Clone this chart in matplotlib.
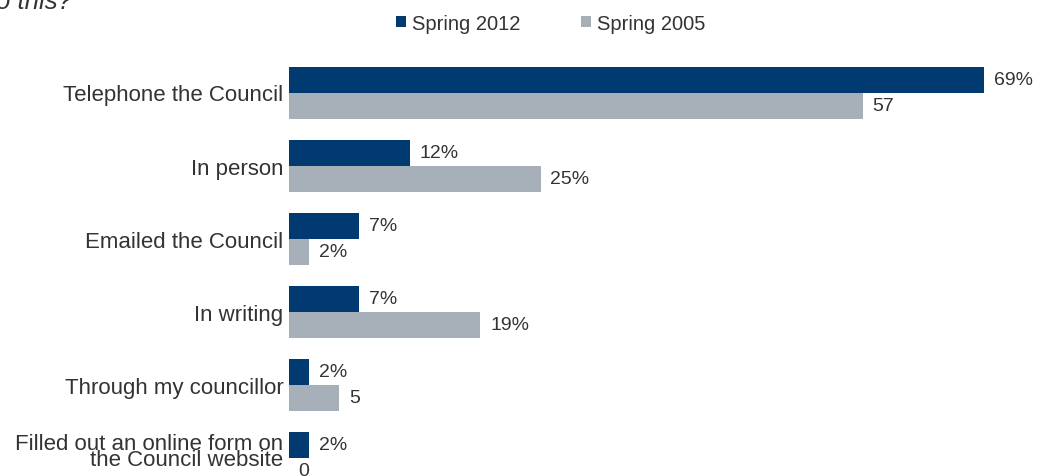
import matplotlib
matplotlib.use("Agg")

import numpy as np
import matplotlib.pyplot as plt
from matplotlib.patches import Patch
from matplotlib.transforms import ScaledTranslation

plt.rcParams["font.family"] = ["Liberation Sans", "DejaVu Sans"]

# ---------------------------------------------------------------------------
# Data
# ---------------------------------------------------------------------------
categories = [
    "Telephone the Council",
    "In person",
    "Emailed the Council",
    "In writing",
    "Through my councillor",
    "Filled out an online form on\nthe Council website",
]
spring_2012 = [69, 12, 7, 7, 2, 2]
spring_2005 = [57, 25, 2, 19, 5, 0]
labels_2012 = ["69%", "12%", "7%", "7%", "2%", "2%"]
labels_2005 = ["57", "25%", "2%", "19%", "5", "0"]
series_names = ["Spring 2012", "Spring 2005"]

NAVY = "#003A70"
GREY = "#A7AFB8"
TEXT = "#333333"

# ---------------------------------------------------------------------------
# Figure
# ---------------------------------------------------------------------------
W, H = 1037, 477
fig = plt.figure(figsize=(W / 100, H / 100), dpi=100)
ax = fig.add_axes([289 / W, 0, 745 / W, 417 / H])

pitch = 73.1
bar_h = 26 / pitch
y = np.arange(len(categories))

ax.barh(y - bar_h / 2, spring_2012, height=bar_h, color=NAVY, linewidth=0)
ax.barh(y + bar_h / 2, spring_2005, height=bar_h, color=GREY, linewidth=0)

for yi, v, lab in zip(y, spring_2012, labels_2012):
    ax.annotate(lab, xy=(v, yi - bar_h / 2), xytext=(7, 0),
                textcoords="offset points", va="center", ha="left",
                fontsize=14, color=TEXT, annotation_clip=False)
for yi, v, lab in zip(y, spring_2005, labels_2005):
    ax.annotate(lab, xy=(v, yi + bar_h / 2), xytext=(7, 0),
                textcoords="offset points", va="center", ha="left",
                fontsize=14, color=TEXT, annotation_clip=False)

ax.set_xlim(0, 745 / 10.07)
ax.set_ylim((H - 93.5) / pitch, -(93.5 - 60) / pitch)

ax.set_yticks(y)
ax.set_yticklabels(categories, fontsize=16, color=TEXT, linespacing=0.72)
ax.tick_params(axis="y", length=0, pad=4)
# two-line label sits a little higher in the original
last = ax.get_yticklabels()[-1]
last.set_transform(last.get_transform()
                   + ScaledTranslation(0, 5 / 72, fig.dpi_scale_trans))
ax.set_xticks([])
for s in ax.spines.values():
    s.set_visible(False)

# legend
handles = [Patch(facecolor=NAVY, edgecolor="none"),
           Patch(facecolor=GREY, edgecolor="none")]
leg = fig.legend(handles, series_names, loc="center",
                 bbox_to_anchor=(551 / W, 1 - 24 / H), ncol=2, frameon=False,
                 fontsize=14.5, handlelength=0.5, handleheight=0.5,
                 handletextpad=0.3, columnspacing=3.0, borderpad=0)
for t in leg.get_texts():
    t.set_color(TEXT)

# cut-off title from above
fig.text(-4 / W, 1 - 9 / H, "o this?", ha="left", va="baseline",
         fontsize=18.5, style="italic", color=TEXT)

fig.savefig("out.png", dpi=100, facecolor="white")
